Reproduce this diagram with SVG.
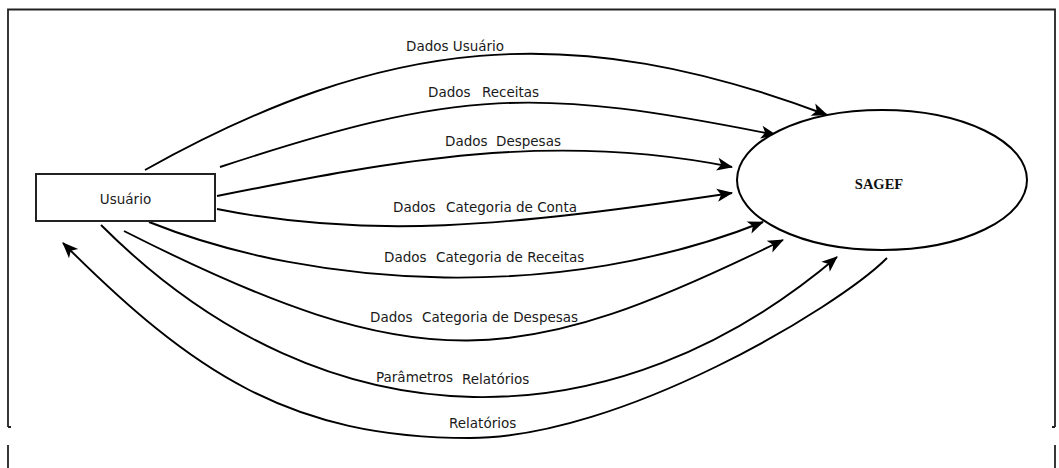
<svg xmlns="http://www.w3.org/2000/svg" width="1059" height="468" viewBox="0 0 1059 468">
<defs>
<style>
.lbl{font-family:"DejaVu Sans",Verdana,sans-serif;font-size:13.5px;fill:#1a1a1a}
.conn{fill:none;stroke:#000;stroke-width:1.9;marker-end:url(#ah)}
.frame{fill:none;stroke:#222;stroke-width:1.8}
</style>
<marker id="ah" markerUnits="userSpaceOnUse" viewBox="-17 -8 19 16" markerWidth="19" markerHeight="16" refX="0" refY="0" orient="auto">
<path d="M1,0 L-15,-6.5 L-11,0 L-15,6.5 Z" fill="#000"/>
</marker>
</defs>
<rect width="1059" height="468" fill="#fff"/>
<g id="frame">
<path class="frame" d="M8,427 V9.5 H1055 V427"/>
<path class="frame" d="M8,427 H11 M1055,427 H1052 M8,445 V468 M1055,445 V468"/>
</g>
<g id="connectors">
<path class="conn" d="M145,170 C385,36 570,18 827,115"/>
<path class="conn" d="M220,167 C460,88 536,87 776,135"/>
<path class="conn" d="M217,196 C397,160 552,131 732,167"/>
<path class="conn" d="M217,209 C367,239 502,227.5 732,193"/>
<path class="conn" d="M149,222 C319,290 563,302 763,222"/>
<path class="conn" d="M124,231 C424,383 521,368 783,240"/>
<path class="conn" d="M101,225 C331,455 618,443 837,257"/>
<path class="conn" d="M887,258 C837,308 620,438 470,438 C290,438 193,373 63,243"/>
<text class="lbl" x="406" y="51">Dados Usuário</text>
<text class="lbl" y="97"><tspan x="428">Dados</tspan><tspan x="482">Receitas</tspan></text>
<text class="lbl" y="146"><tspan x="445">Dados</tspan><tspan x="496">Despesas</tspan></text>
<text class="lbl" y="212"><tspan x="393">Dados</tspan><tspan x="446">Categoria de Conta</tspan></text>
<text class="lbl" y="262"><tspan x="384">Dados</tspan><tspan x="436">Categoria de Receitas</tspan></text>
<text class="lbl" y="322"><tspan x="370">Dados</tspan><tspan x="422">Categoria de Despesas</tspan></text>
<text class="lbl"><tspan x="376" y="382">Parâmetros</tspan><tspan x="462" y="384">Relatórios</tspan></text>
<text class="lbl" x="449" y="428">Relatórios</text>
</g>
<g id="usuario">
<rect x="36" y="174" width="179" height="47" fill="#fff" stroke="#222" stroke-width="2"/>
<text class="lbl" x="125.5" y="204" text-anchor="middle">Usuário</text>
</g>
<g id="sagef">
<ellipse cx="882" cy="180" rx="145" ry="70" fill="#fff" stroke="#000" stroke-width="2"/>
<text x="879" y="189" text-anchor="middle" font-family="'Liberation Serif','Times New Roman',serif" font-size="14.5" font-weight="bold" fill="#111">SAGEF</text>
</g>
</svg>
